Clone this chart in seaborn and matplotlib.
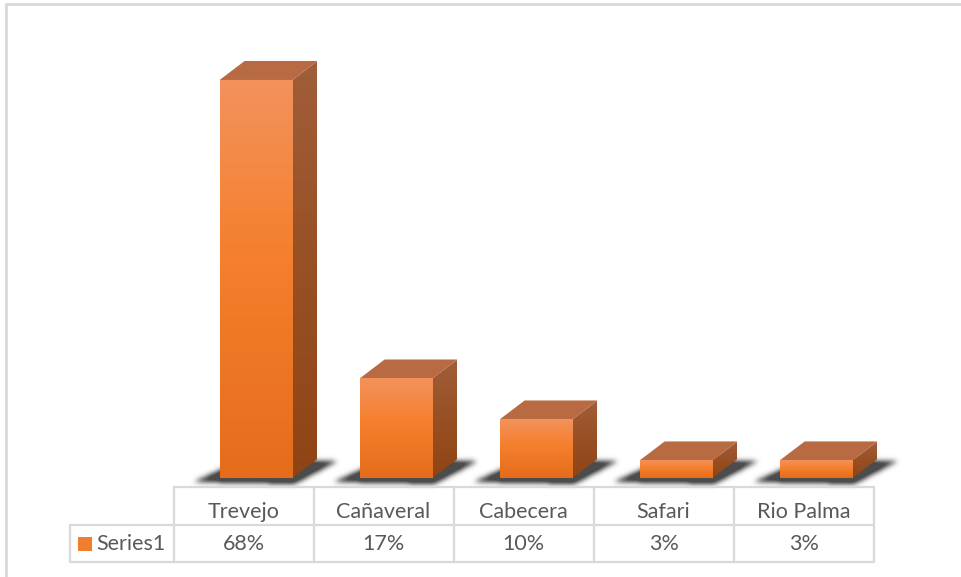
import numpy as np
import pandas as pd
import seaborn as sns
import matplotlib
matplotlib.use("Agg")
import matplotlib.pyplot as plt
from matplotlib.patches import Polygon, Rectangle
from matplotlib.path import Path

# ---- data -------------------------------------------------------------
categories = ["Trevejo", "Cañaveral", "Cabecera", "Safari", "Rio Palma"]
shares = [68, 17, 10, 3, 3]          # percent
series_name = "Series1"

# ---- figure geometry (pixels) ------------------------------------------
W, H, DPI = 961, 577, 100
LEFT, RIGHT, BASE, TOP = 173, 875, 478, 39
DX, DY = 25, 19                      # depth of the 3-D columns
GRID = "#D9D9D9"
TEXT = "#595959"
FS = 15.5

sns.set_theme(style="white")
plt.rcParams["font.family"] = ["Lato", "DejaVu Sans"]

fig = plt.figure(figsize=(W / DPI, H / DPI), dpi=DPI)
fig.patch.set_facecolor("white")

# pixel-space layer for shadows, side/top faces, data table and frame
bg = fig.add_axes([0, 0, 1, 1], zorder=0)
bg.set_xlim(0, W)
bg.set_ylim(H, 0)
bg.axis("off")

# plot area holding the column fronts
ax = fig.add_axes([LEFT / W, (H - BASE) / H, (RIGHT - LEFT) / W, (BASE - TOP) / H], zorder=1)
ax.patch.set_alpha(0)

df = pd.DataFrame({"zona": categories, "pct": shares})
sns.barplot(data=df, x="zona", y="pct", ax=ax, width=0.52, color="#F07E2E",
            saturation=1, edgecolor="none", linewidth=0)
ax.set_xlim(-0.593, 4.421)
ax.set_ylim(0, 75)
ax.axis("off")


def to_px(points):
    disp = ax.transData.transform(points)
    return bg.transData.inverted().transform(disp)


def vgrad(stops, n=256):
    t = np.linspace(0, 1, n)
    pos = [s[0] for s in stops]
    cols = np.array([s[1] for s in stops], dtype=float) / 255.0
    img = np.stack([np.interp(t, pos, cols[:, k]) for k in range(3)], axis=-1)
    return img[:, None, :]


front_grad = vgrad([(0.0, (243, 146, 92)), (0.45, (245, 127, 44)), (1.0, (229, 108, 27))])
side_grad = vgrad([(0.0, (160, 94, 58)), (0.5, (152, 80, 36)), (1.0, (143, 68, 20))])
TOP_COLOR = "#B86A42"

bars = list(ax.patches)
geo = []
for p in bars:
    x0, w, h = p.get_x(), p.get_width(), p.get_height()
    (X0, YB), (X1, YT) = to_px([(x0, 0), (x0 + w, h)])
    geo.append((X0, X1, YT, YB))
    # front face gradient, clipped to the seaborn bar
    im = ax.imshow(front_grad, extent=(x0, x0 + w, 0, h), origin="upper",
                   aspect="auto", zorder=3, interpolation="bilinear")
    im.set_clip_path(p)
ax.set_xlim(-0.593, 4.421)
ax.set_ylim(0, 75)

# ---- soft floor shadows -------------------------------------------------
yy, xx = np.mgrid[0:H, 0:W]
pts = np.column_stack([xx.ravel() + 0.5, yy.ravel() + 0.5])
mask = np.zeros(H * W)
for X0, X1, YT, YB in geo:
    shape = Path([(X0 - 26, YB + 4), (X1 + 2, YB + 6), (X1 + DX + 20, YB - DY + 2),
                  (X0 + DX, YB - DY), (X0 - 26, YB + 4)])
    mask = np.maximum(mask, shape.contains_points(pts).astype(float))
mask = mask.reshape(H, W)
k = np.exp(-0.5 * (np.arange(-9, 10) / 2.6) ** 2)
k /= k.sum()
mask = np.apply_along_axis(lambda r: np.convolve(r, k, mode="same"), 1, mask)
mask = np.apply_along_axis(lambda c: np.convolve(c, k, mode="same"), 0, mask)
shadow = np.zeros((H, W, 4))
shadow[..., :3] = 0.2
shadow[..., 3] = np.clip(mask * 1.1, 0, 0.88)
bg.imshow(shadow, extent=(0, W, H, 0), origin="upper", zorder=1, aspect="auto")
bg.set_xlim(0, W)
bg.set_ylim(H, 0)

# ---- side and top faces --------------------------------------------------
for X0, X1, YT, YB in geo:
    side = Polygon([(X1, YT), (X1 + DX, YT - DY), (X1 + DX, YB - DY), (X1, YB)],
                   closed=True, facecolor="none", edgecolor="none")
    bg.add_patch(side)
    sim = bg.imshow(side_grad, extent=(X1, X1 + DX, YB, YT - DY), origin="upper",
                    aspect="auto", zorder=3, interpolation="bilinear")
    sim.set_clip_path(side)
    bg.add_patch(Polygon([(X0, YT), (X1, YT), (X1 + DX, YT - DY), (X0 + DX, YT - DY)],
                         closed=True, facecolor=TOP_COLOR, edgecolor="none", zorder=4))
bg.set_xlim(0, W)
bg.set_ylim(H, 0)

# ---- data table ----------------------------------------------------------
edges = [to_px([(i - 0.5, 0)])[0][0] - DX / 2 for i in range(len(categories) + 1)]
ROW0, ROW1, ROW2 = 487, 525, 562
KEY_LEFT = 70
lw = 1.6
bg.plot([edges[0], edges[-1]], [ROW0, ROW0], color=GRID, lw=lw, zorder=5)
bg.plot([KEY_LEFT, edges[-1]], [ROW1, ROW1], color=GRID, lw=lw, zorder=5)
bg.plot([KEY_LEFT, edges[-1]], [ROW2, ROW2], color=GRID, lw=lw, zorder=5)
bg.plot([KEY_LEFT, KEY_LEFT], [ROW1, ROW2], color=GRID, lw=lw, zorder=5)
for e in edges:
    bg.plot([e, e], [ROW0, ROW2], color=GRID, lw=lw, zorder=5)

for i, (cat, val) in enumerate(zip(categories, shares)):
    cx = (edges[i] + edges[i + 1]) / 2
    bg.text(cx, 518, cat, ha="center", va="baseline",
            fontsize=FS, color=TEXT, zorder=6)
    bg.text(cx, 550, f"{val}%", ha="center", va="baseline",
            fontsize=FS, color=TEXT, zorder=6)

bg.add_patch(Rectangle((78, 537), 14, 14, facecolor="#F07E2E", edgecolor="none", zorder=6))
bg.text(96, 550, series_name, ha="left", va="baseline",
        fontsize=FS, color=TEXT, zorder=6)

# ---- outer frame ---------------------------------------------------------
bg.plot([6, W], [4, 4], color=GRID, lw=2, zorder=5)
bg.plot([6, 6], [4, H], color=GRID, lw=2, zorder=5)

fig.savefig("out.png", dpi=DPI, facecolor="white")
